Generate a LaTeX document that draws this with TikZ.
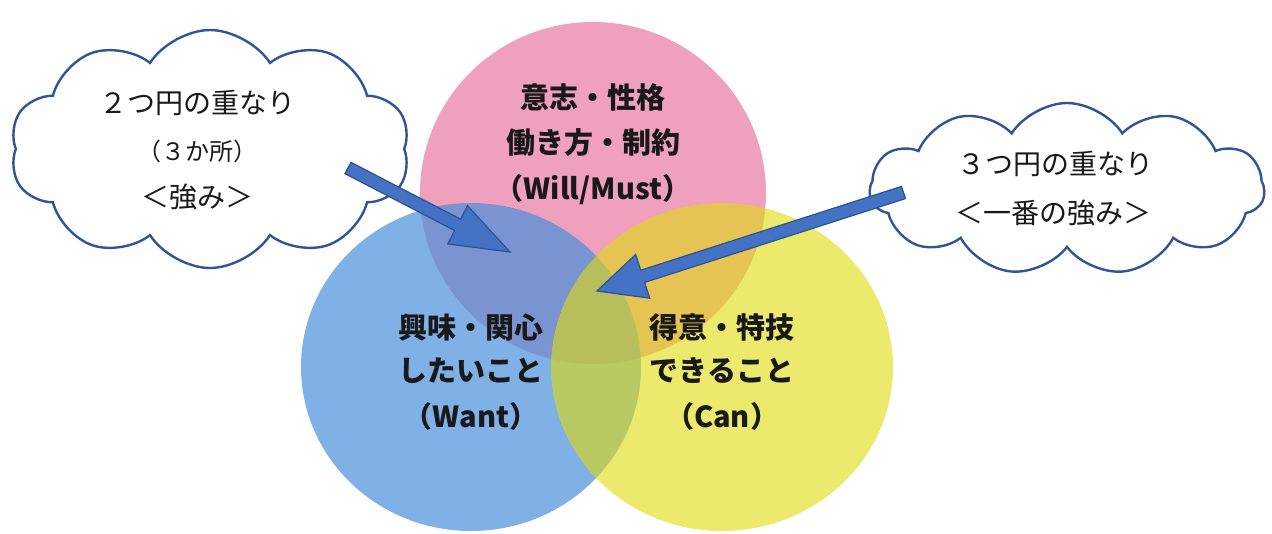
\documentclass[tikz,border=0pt]{standalone}
\usepackage{fontspec}
\newfontfamily\jp{Noto Sans CJK JP}
\usetikzlibrary{shapes.symbols,shapes.geometric,calc}
\definecolor{pinkc}{RGB}{238,160,188}
\definecolor{bluec}{RGB}{71,143,219}
\definecolor{yellowc}{RGB}{223,220,13}
\definecolor{arrowfill}{RGB}{68,114,196}
\definecolor{arrowline}{RGB}{47,82,143}
\definecolor{cloudline}{RGB}{47,85,151}
\newcommand\bArrow[5]{% start, tip, shaft half width, head half width, head length
  \coordinate (#2-base) at ($(#2)!#5!(#1)$);
  \draw[blockarrow] ($(#1)!#3!90:(#2)$) -- ($(#2-base)!#3!90:(#2)$)
    -- ($(#2-base)!#4!90:(#2)$) -- (#2) -- ($(#2-base)!#4!-90:(#2)$)
    -- ($(#2-base)!#3!-90:(#2)$) -- ($(#1)!#3!-90:(#2)$) -- cycle;
}
\begin{document}
\begin{tikzpicture}[x=1pt,y=-1pt,
  disc/.style={ellipse,inner sep=0pt,draw=none},
  circtext/.style={inner sep=0pt,font=\jp\bfseries\fontsize{29}{35}\selectfont,text=black!90},
  cloudtext/.style={inner sep=0pt,font=\jp\fontsize{28}{34}\selectfont,text=black!90},
  smalltext/.style={inner sep=0pt,font=\jp\fontsize{24}{28}\selectfont,text=black!90},
  bubble/.style={cloud,draw=cloudline,line width=2.4pt,fill=white,cloud ignores aspect,inner sep=0pt},
  blockarrow/.style={fill=arrowfill,draw=arrowline,line width=1.2pt,line join=miter}]
\useasboundingbox (0,0) rectangle (1272,533);
\fill[white] (0,0) rectangle (1272,533);
% circles
\node[disc,fill=pinkc,minimum width=346pt,minimum height=342pt] (will) at (593,193) {};
\node[disc,fill=bluec,fill opacity=0.69,minimum width=340pt,minimum height=328pt] (want) at (471,367) {};
\node[disc,fill=yellowc,fill opacity=0.6,minimum width=342pt,minimum height=328pt] (can) at (722,367) {};
% circle texts
\node[circtext] (w1) at (593,97) {意志・性格};
\node[circtext] (w2) at (593,143) {働き方・制約};
\node[circtext] (w3) at (593,190) {（Will/Must）};
\node[circtext] (a1) at (471,327) {興味・関心};
\node[circtext] (a2) at (471,371) {したいこと};
\node[circtext] (a3) at (471,416) {（Want）};
\node[circtext] (c1) at (722,327) {得意・特技};
\node[circtext] (c2) at (722,371) {できること};
\node[circtext] (c3) at (722,416) {（Can）};
% clouds
\node[bubble,cloud puffs=10,cloud puff arc=115,minimum width=400pt,minimum height=238pt] (cloudL) at (210,149) {};
\node[bubble,cloud puffs=11,cloud puff arc=115,minimum width=395pt,minimum height=172pt] (cloudR) at (1067,189) {};
\node[cloudtext] (l1) at (197,103) {２つ円の重なり};
\node[smalltext] (l2) at (197,151) {（３か所）};
\node[cloudtext] (l3) at (197,197) {＜強み＞};
\node[cloudtext] (r1) at (1055,164) {３つ円の重なり};
\node[cloudtext] (r2) at (1053,213) {＜一番の強み＞};
% arrows
\coordinate (s1) at (348,168);
\coordinate (e1) at (510,252);
\coordinate (s2) at (903.5,192.5);
\coordinate (e2) at (597,291);
\bArrow{s1}{e1}{6.4pt}{21.5pt}{59pt}
\bArrow{s2}{e2}{6.4pt}{23pt}{48pt}
\end{tikzpicture}
\end{document}
